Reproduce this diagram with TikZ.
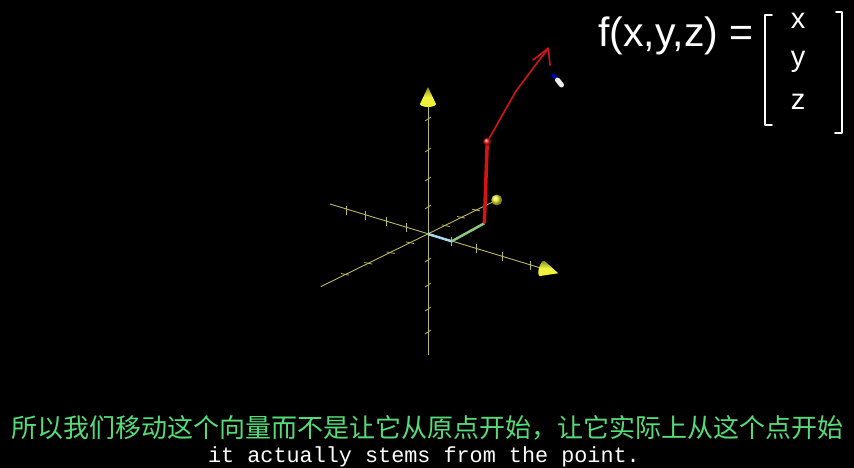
\documentclass[tikz,border=0pt]{standalone}
\usepackage{fontspec}
\setmainfont{Liberation Sans}
\setmonofont{Liberation Mono}
\newfontfamily\cjk{Noto Sans CJK SC}
\definecolor{axiscol}{RGB}{185,185,95}
\definecolor{conecol}{RGB}{240,240,45}
\definecolor{subgreen}{RGB}{85,220,120}
\definecolor{vecred}{RGB}{215,20,20}
\definecolor{vecblue}{RGB}{165,215,235}
\definecolor{vecgreen}{RGB}{140,200,130}
\tikzset{
  axisline/.style={axiscol, line width=0.9pt},
  tickline/.style={axiscol, line width=0.8pt},
  handwrite/.style={white, line width=1.6pt, line cap=round, line join=round},
  cone/.pic={
    \shade[top color=conecol!55!black, bottom color=conecol, middle color=conecol!90!white]
      (0,-8) -- (17,0) -- (0,8) arc[start angle=90, end angle=270, x radius=3, y radius=8] -- cycle;
  },
}
\begin{document}
\begin{tikzpicture}[x=1pt, y=-1pt]
	\fill[black] (0,0) rectangle (854,468);
	\useasboundingbox (0,0) rectangle (854,468);
	% axes
	\coordinate (O) at (428,234);
	\coordinate (ytop) at (428,104); \coordinate (ybot) at (428,355);
	\coordinate (aneg) at (330,204); \coordinate (apos) at (542,268.4);
	\coordinate (bneg) at (320.7,286.7); \coordinate (S) at (496.7,200);
	\draw[axisline] (ybot) -- (ytop);
	\draw[axisline] (aneg) -- (apos);
	\draw[axisline] (bneg) -- (S);
	\foreach \y in {119,150,179,207,260,285,309,332}
		\draw[tickline] (425,\y+2) -- (431,\y-2);
	\foreach \x/\y in {451.7/241.3, 476/248.3, 502.3/256.7, 530/265, 406.7/227.3, 386/221, 365.7/215, 346.7/210}
		\draw[tickline] (\x,\y-4.5) -- (\x,\y+4.5);
	\foreach \x/\y in {410/242.7, 390.7/252.7, 368.3/263.3, 345/274.3, 445.7/225.7, 461/217.3, 476/210}
		\draw[tickline] (\x-4,\y-0.8) -- (\x+4,\y+0.8);
	\pic[rotate=90] at (ytop) {cone};
	\pic[rotate=-16.7] at (apos) {cone};
	\shade[ball color=conecol] (S) circle[radius=5.5];
	% vectors
	\coordinate (M) at (451.7,241.3);
	\coordinate (Q) at (484.3,223.3);
	\coordinate (P) at (487.3,141.7);
	\coordinate (T) at (548.3,48.3);
	\draw[vecblue, line width=2.5pt] (O) -- (M);
	\draw[vecgreen, line width=2.5pt] (M) -- (Q);
	\draw[vecred, line width=3.5pt] (Q) -- (P);
	\draw[vecred, line width=1.6pt, line cap=round, line join=round] (P) -- (516,91) -- (531,71) -- (T);
	\draw[vecred, line width=1.6pt, line cap=round, line join=round] (533,60) -- (T) -- (550,65);
	\shade[ball color=vecred] (P) circle[radius=4];
	% pen cursor
	\draw[blue!80!black, line width=3pt, line cap=round] (553,75) -- (556,78.5);
	\draw[gray!15, line width=5pt, line cap=round] (557.5,80) -- (561.5,85);
	% formula
	\node[white, font=\fontsize{41}{44}\selectfont, anchor=base west, inner sep=0pt] (fx) at (598,47) {f(x,y,z) =};
	\node[white, font=\fontsize{29}{32}\selectfont, anchor=base, inner sep=0pt] (ex) at (798,29) {x};
	\node[white, font=\fontsize{29}{32}\selectfont, anchor=base, inner sep=0pt] (ey) at (798,67) {y};
	\node[white, font=\fontsize{29}{32}\selectfont, anchor=base, inner sep=0pt] (ez) at (798,110) {z};
	\draw[handwrite] (772,15) -- (765,15) -- (765,125) -- (772,125);
	\draw[handwrite] (836,12) -- (842,12) -- (842,133) -- (835,133);
	% subtitles
	\node[subgreen, font=\cjk\fontsize{26}{30}\selectfont, anchor=base, inner sep=0pt] (subcn) at (427,437) {所以我们移动这个向量而不是让它从原点开始，让它实际上从这个点开始};
	\node[white, font=\ttfamily\fontsize{21.8}{24}\selectfont, anchor=base, inner sep=0pt] (suben) at (424,462) {it actually stems from the point.};
\end{tikzpicture}
\end{document}
